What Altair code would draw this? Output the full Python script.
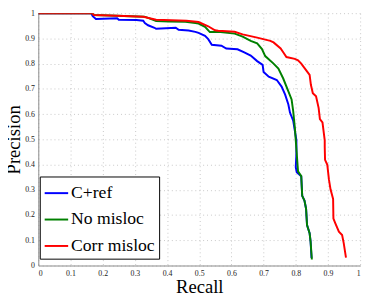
import altair as alt
import pandas as pd

series = ["C+ref", "No misloc", "Corr misloc"]
colors = ["#0000ff", "#008000", "#ff0000"]
ticks = [0, 0.1, 0.2, 0.3, 0.4, 0.5, 0.6, 0.7, 0.8, 0.9, 1]

blue_recall = [0, 0.164, 0.169, 0.179, 0.245, 0.25, 0.305, 0.326, 0.331, 0.341, 0.361, 0.366,
               0.427, 0.436, 0.467, 0.488, 0.498, 0.518, 0.528, 0.539, 0.569, 0.584, 0.619,
               0.64, 0.66, 0.68, 0.697, 0.7, 0.716, 0.741, 0.756, 0.767, 0.777, 0.782, 0.792,
               0.797, 0.802, 0.802, 0.800, 0.803, 0.817, 0.82, 0.827, 0.832, 0.835, 0.843,
               0.846, 0.849]
blue_prec = [1, 1, 0.988, 0.977, 0.98, 0.974, 0.973, 0.97, 0.961, 0.952, 0.942, 0.938,
             0.942, 0.934, 0.931, 0.926, 0.922, 0.91, 0.897, 0.875, 0.871, 0.86, 0.857,
             0.845, 0.832, 0.81, 0.795, 0.767, 0.748, 0.735, 0.709, 0.677, 0.638, 0.606, 0.574,
             0.535, 0.496, 0.444, 0.39, 0.37, 0.354, 0.276, 0.257, 0.225, 0.16, 0.128,
             0.096, 0.03]

green_recall = [0, 0.168, 0.172, 0.245, 0.33, 0.341, 0.366, 0.407, 0.457, 0.488, 0.498, 0.518,
                0.533, 0.559, 0.61, 0.635, 0.66, 0.68, 0.695, 0.705, 0.731, 0.746, 0.761,
                0.777, 0.787, 0.792, 0.797, 0.8, 0.803, 0.807, 0.817, 0.82, 0.827, 0.832,
                0.835, 0.843, 0.846, 0.85]
green_prec = [1, 1, 0.993, 0.99, 0.986, 0.981, 0.969, 0.967, 0.966, 0.961, 0.959, 0.946,
              0.925, 0.926, 0.919, 0.907, 0.89, 0.88, 0.858, 0.83, 0.8, 0.78, 0.741,
              0.69, 0.658, 0.612, 0.548, 0.496, 0.444, 0.373, 0.354, 0.276, 0.257, 0.225,
              0.16, 0.128, 0.096, 0.024]

red_recall = [0, 0.168, 0.172, 0.245, 0.326, 0.366, 0.46, 0.498, 0.528, 0.549, 0.559, 0.61,
              0.635, 0.68, 0.721, 0.731, 0.753, 0.761, 0.771, 0.797, 0.807, 0.817, 0.832,
              0.843, 0.847, 0.853, 0.863, 0.871, 0.875, 0.883, 0.89, 0.89, 0.891, 0.898,
              0.903, 0.908, 0.916, 0.917, 0.923, 0.934, 0.944, 0.949, 0.956]
red_prec = [1, 1, 0.993, 0.99, 0.986, 0.974, 0.97, 0.965, 0.948, 0.932, 0.93, 0.926,
            0.916, 0.903, 0.89, 0.884, 0.86, 0.845, 0.826, 0.819, 0.813, 0.8, 0.774,
            0.755, 0.716, 0.683, 0.671, 0.625, 0.58, 0.567, 0.496, 0.47, 0.419, 0.399,
            0.341, 0.302, 0.264, 0.186, 0.167, 0.134, 0.121, 0.089, 0.031]

rows = []
for name, rs, ps in [(series[0], blue_recall, blue_prec),
                     (series[1], green_recall, green_prec),
                     (series[2], red_recall, red_prec)]:
    for i, (r, p) in enumerate(zip(rs, ps)):
        rows.append({"series": name, "recall": r, "precision": p, "idx": i})
df = pd.DataFrame(rows)

font = "Liberation Serif"

chart = alt.Chart(df).mark_line(strokeWidth=2, clip=True).encode(
    x=alt.X("recall:Q", scale=alt.Scale(domain=[0, 1], nice=False),
            axis=alt.Axis(values=ticks, format="~g", title="Recall", labelPadding=4,
                          titlePadding=1)),
    y=alt.Y("precision:Q", scale=alt.Scale(domain=[0, 1], nice=False),
            axis=alt.Axis(values=ticks, format="~g", title="Precision", labelPadding=4,
                          titlePadding=1)),
    color=alt.Color("series:N", scale=alt.Scale(domain=series, range=colors),
                    legend=alt.Legend(title=None, orient="none", legendX=1.5, legendY=167,
                                      symbolType="stroke", symbolSize=576,
                                      symbolStrokeWidth=2, labelFont=font,
                                      labelFontSize=18, labelColor="black",
                                      labelFontWeight="normal",
                                      strokeColor="black", fillColor="white",
                                      padding=4, rowPadding=5, labelOffset=2)),
    order="idx:Q",
).properties(
    width=329, height=258,
    padding={"left": 31, "top": 2, "right": 6, "bottom": 33},
    autosize="none",
).configure_view(stroke=None).configure_axis(
    labelFont=font, labelFontSize=8, labelColor="#222",
    titleFont=font, titleFontSize=19, titleFontWeight="normal", titleColor="black",
    gridColor="#c8c8c8", gridDash=[1, 3], gridWidth=1,
    domainColor="#888888", ticks=False,
).configure_legend(labelFont=font, labelFontSize=18)

chart.save("out.html", embed_options={"renderer": "svg", "actions": False})
